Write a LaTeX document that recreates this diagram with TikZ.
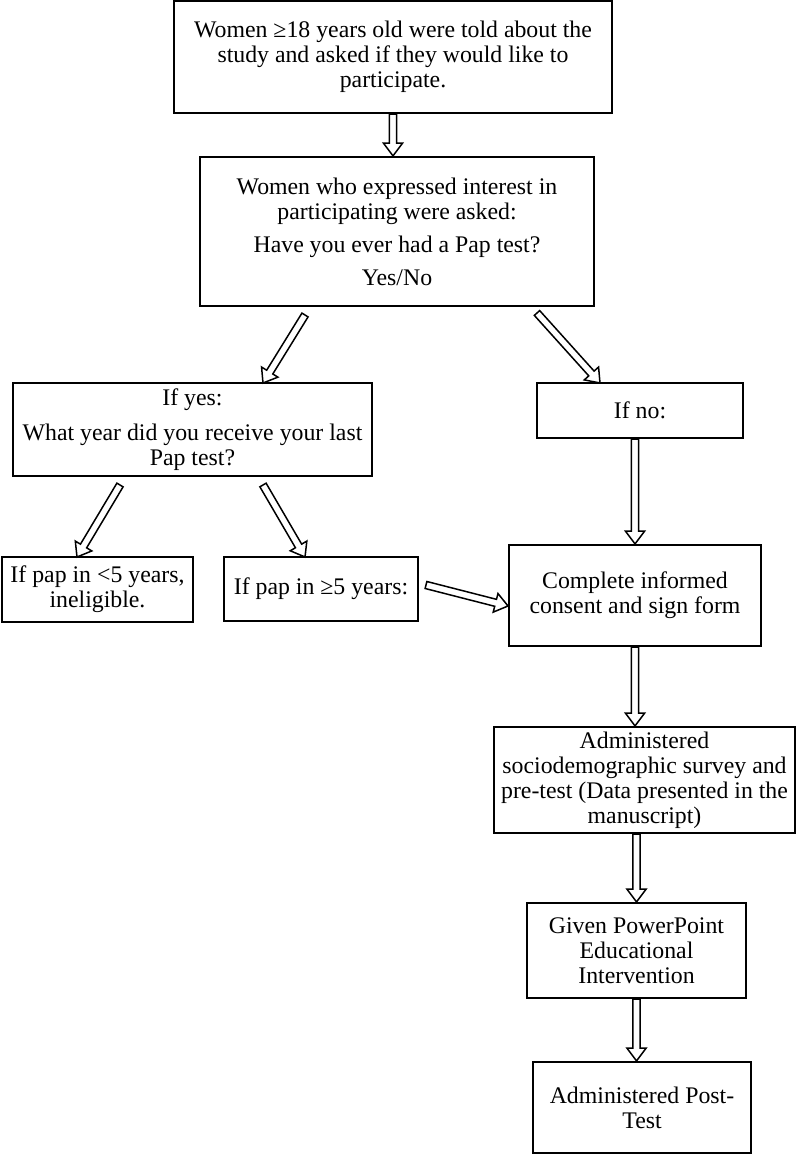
\documentclass[tikz,border=0pt]{standalone}
\usepackage{fontspec}
\setmainfont{Liberation Serif}
\usetikzlibrary{calc}
\def\aw{1.8pt}
\def\hw{4.8pt}
\def\ah{6.4pt}
\newcommand{\harrow}[2]{%
\draw[harr] let \p1=($(#2)-(#1)$), \n1={atan2(\y1,\x1)}, \n2={veclen(\x1,\y1)} in
 ($(#1)+({\n1+90}:\aw)$) -- ($(#1)+(\n1:{\n2-\ah})+({\n1+90}:\aw)$) -- ($(#1)+(\n1:{\n2-\ah})+({\n1+90}:\hw)$) -- (#2) -- ($(#1)+(\n1:{\n2-\ah})+({\n1-90}:\hw)$) -- ($(#1)+(\n1:{\n2-\ah})+({\n1-90}:\aw)$) -- ($(#1)+({\n1-90}:\aw)$) -- cycle;}
\begin{document}
\begin{tikzpicture}[x=0.5pt,y=-0.5pt,
  box/.style={draw, line width=1.1pt, inner sep=0pt, align=center, font=\fontsize{11.9}{12.5}\selectfont},
  harr/.style={draw, line width=0.75pt, fill=white, line join=miter}]
\useasboundingbox (0,0) rectangle (797,1154);
\node[box, minimum width=219pt, minimum height=56pt] (top) at (393,57)
  {Women ≥18 years old were told about the\\study and asked if they would like to\\participate.};
\node[box, minimum width=197pt, minimum height=74.5pt] (q) at (397,231.5)
  {Women who expressed interest in\\participating were asked:\\[4pt]Have you ever had a Pap test?\\[4pt]Yes/No};
\node[box, minimum width=179.5pt, minimum height=46.5pt] (yes) at (192.5,429.5)
  {If yes:\\[5pt]What year did you receive your last\\Pap test?};
\node[box, minimum width=103pt, minimum height=27.5pt] (no) at (640,410.5) {If no:};
\node[box, minimum width=95.5pt, minimum height=32.5pt] (lt) at (97.5,589.5)
  {If pap in <5 years,\\ineligible.};
\node[box, minimum width=97pt, minimum height=32pt] (ge) at (321,589) {If pap in ≥5 years:};
\node[box, minimum width=126pt, minimum height=50.5pt] (comp) at (635,595.5)
  {Complete informed\\consent and sign form};
\node[box, minimum width=150.5pt, minimum height=53pt] (adm) at (644.5,780)
  {Administered\\sociodemographic survey and\\pre-test (Data presented in the\\manuscript)};
\node[box, minimum width=109.5pt, minimum height=47.5pt] (giv) at (636.5,950.5)
  {Given PowerPoint\\Educational\\Intervention};
\node[box, minimum width=109pt, minimum height=45.5pt] (post) at (642,1107.5)
  {Administered Post-\\Test};
% arrow end points
\coordinate (qyS) at (305,315);
\coordinate (qyE) at (263,383);
\coordinate (qnS) at (537,313);
\coordinate (qnE) at (600,383);
\coordinate (ylS) at (120,485);
\coordinate (ylE) at (77,557);
\coordinate (ygS) at (263,485);
\coordinate (ygE) at (305,557);
\coordinate (gcS) at (426,585);
\coordinate (gcE) at (508,606);
% arrows
\harrow{top.south}{top.south |- q.north}
\harrow{qyS}{qyE}
\harrow{qnS}{qnE}
\harrow{ylS}{ylE}
\harrow{ygS}{ygE}
\harrow{gcS}{gcE}
\harrow{comp.north |- no.south}{comp.north}
\harrow{comp.south}{comp.south |- adm.north}
\harrow{giv.north |- adm.south}{giv.north}
\harrow{giv.south}{giv.south |- post.north}
\end{tikzpicture}
\end{document}
